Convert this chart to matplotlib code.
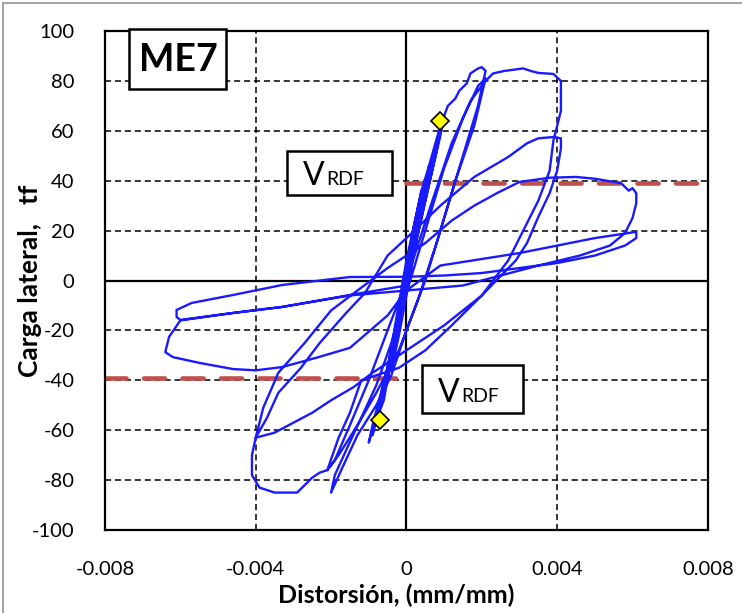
import matplotlib
matplotlib.use("Agg")
import matplotlib.pyplot as plt
from matplotlib.patches import Rectangle

# hysteresis record: distortion (mm/mm) and lateral load (tf)
drift = [
    0.0, 0.0002, 0.0004, 0.0002, -0.0001, -0.0003, -0.0004, -0.0002, 0.0001,
    0.0004, 0.0006, 0.0004, 0.0, -0.0003, -0.0006, -0.0004, -0.0001,
    0.0003, 0.0006, 0.0009, 0.0010, 0.0009, 0.0005, 0.0001, -0.0003, -0.0006,
    -0.0009, -0.0010, -0.0009, -0.0005, -0.0002, 0.0002, 0.0006, 0.0009,
    0.0008, 0.0004, 0.0, -0.0004, -0.0008, -0.0009, -0.0007, -0.0003,
    0.0001, 0.0005, 0.0008, 0.0010, 0.0011, 0.0013, 0.0014, 0.0016, 0.0017,
    0.0019, 0.0020, 0.0021,
    0.0019, 0.0015, 0.0010, 0.0005, 0.0, -0.0004, -0.0008, -0.0013, -0.0017, -0.0020,
    -0.0019, -0.0016, -0.0012, -0.0008, -0.0004, 0.0, 0.0005, 0.0010, 0.0015, 0.0019, 0.0021,
    0.0018, 0.0013, 0.0008, 0.0003, -0.0002, -0.0008, -0.0013, -0.0018, -0.0021,
    -0.0019, -0.0015, -0.0010, -0.0005, 0.0, 0.0006, 0.0012, 0.0017, 0.0021,
    0.0023, 0.0026, 0.0031, 0.0033, 0.0035, 0.0039, 0.0041,
    0.0041, 0.0039, 0.0038, 0.0035, 0.0031, 0.0027, 0.0020, 0.0012, 0.0005,
    -0.0002, -0.0008, -0.0012, -0.0015, -0.0018, -0.0021, -0.0023, -0.0025,
    -0.0027, -0.0029, -0.0035, -0.0039, -0.0041,
    -0.0041, -0.0040, -0.0037, -0.0034, -0.0028, -0.0023, -0.0016, -0.0011,
    -0.0005, 0.0, 0.0009, 0.0018, 0.0027, 0.0032, 0.0035, 0.0039, 0.0041,
    0.0041, 0.0040, 0.0038, 0.0035, 0.0032, 0.0029, 0.0020, 0.0010, 0.0,
    -0.0004, -0.0009, -0.0014, -0.0020, -0.0025, -0.0030, -0.0035, -0.0040,
    -0.0038, -0.0034, -0.0027, -0.0020, -0.0013, -0.0005, 0.0005, 0.0012,
    0.0018, 0.0024, 0.0030, 0.0038, 0.0045, 0.0050, 0.0057, 0.0059, 0.0060, 0.0061,
    0.0061, 0.0060, 0.0058, 0.0054, 0.0046, 0.0035, 0.0025, 0.0015, 0.0,
    -0.0015, -0.0033, -0.0046, -0.0060, -0.0063, -0.0064,
    -0.0062, -0.0055, -0.0046, -0.0040, -0.0033, -0.0024, -0.0015, -0.0005,
    0.0, 0.0009, 0.0030, 0.0050, 0.0061,
    0.0061, 0.0058, 0.0050, 0.0040, 0.0030, 0.0020, 0.0010, 0.0, -0.0015,
    -0.0033, -0.0046, -0.0057, -0.0061, -0.0061,
    -0.0060, -0.0046, -0.0033, -0.0015, 0.0,
]
load = [
    0, 18, 36, 22, -2, -22, -36, -22, 2,
    30, 46, 36, 8, -18, -44, -34, -8,
    22, 46, 62, 66, 58, 32, 5, -22, -48,
    -60, -65, -58, -35, -12, 15, 45, 60,
    52, 25, -2, -28, -54, -62, -50, -25,
    5, 35, 55, 66, 70, 73, 76, 79, 83,
    85, 85.5, 84,
    70, 50, 25, 0, -20, -38, -50, -62, -75, -85,
    -78, -68, -55, -42, -25, -5, 20, 45, 65, 78, 81,
    62, 40, 15, -8, -28, -45, -58, -70, -76,
    -72, -58, -40, -20, 0, 28, 55, 72, 80,
    83, 84, 85, 84, 83.2, 82.8, 80,
    68, 56, 44, 32, 20, 8, -6, -18, -28,
    -35, -38, -40, -53, -63, -76, -77, -79,
    -82, -85, -85, -83, -78,
    -70, -63, -55, -45, -35, -25, -13, -5,
    10, 17, 30, 41.5, 49.5, 55, 57, 57.5, 57,
    53, 44, 35, 25.5, 15, 8, -6, -18, -28,
    -32, -37, -42.7, -48, -53, -57, -61, -63,
    -51, -37, -25, -12, -4, 5, 15, 24,
    30, 35, 39.5, 41.2, 41.5, 40.8, 39, 36, 37, 35,
    31, 25, 19, 14, 10, 6, 2, -2, -4,
    -6, -10.6, -13, -16, -22.6, -28.7,
    -30.7, -33, -35.5, -36, -34.7, -31, -27, -14,
    -4, 6, 11, 17, 19.5,
    17, 14, 10, 7, 5, 3, 2, 1.5, 1.4,
    -1.8, -5.8, -9, -11.8, -14.6,
    -15.8, -13, -10.6, -5.8, -2,
]

# points marked with yellow diamonds
mark_x = [0.0009, -0.0007]
mark_y = [64, -56]

v_rdf = 39  # tf

x_ticks = [-0.008, -0.004, 0, 0.004, 0.008]
x_tick_labels = ["-0.008", "-0.004", "0", "0.004", "0.008"]
y_ticks = list(range(-100, 101, 20))

plt.rcParams["font.family"] = ["Lato", "DejaVu Sans"]
plt.rcParams["axes.unicode_minus"] = False

fig = plt.figure(figsize=(7.42, 6.13), dpi=100)
ax = fig.add_axes([0.1415, 0.1354, 0.8125, 0.814])

# dashed grid, solid zero axes
for xv in x_ticks:
    if xv != 0:
        ax.axvline(xv, color="black", lw=1.1, ls=(0, (4, 2.5)), zorder=1)
for yv in y_ticks:
    if yv != 0:
        ax.axhline(yv, color="black", lw=1.1, ls=(0, (4, 2.5)), zorder=1)
ax.axvline(0, color="black", lw=1.6, zorder=1)
ax.axhline(0, color="black", lw=1.6, zorder=1)

# yield-strength reference lines
ax.plot([0, 0.008], [v_rdf, v_rdf], color="#C0504D", lw=3.3,
        dashes=(4.6, 3.8), dash_capstyle="round", zorder=2)
ax.plot([-0.008, 0], [-v_rdf, -v_rdf], color="#C0504D", lw=3.3,
        dashes=(4.6, 3.8), dash_capstyle="round", zorder=2)

ax.plot(drift, load, color="#1A1AFF", lw=1.7, zorder=3)
ax.plot(mark_x, mark_y, ls="none", marker="D", ms=9, mfc="#FFFF00",
        mec="black", mew=1.2, zorder=4)

ax.set_xlim(-0.008, 0.008)
ax.set_ylim(-100, 100)
ax.set_xticks(x_ticks)
ax.set_xticklabels(x_tick_labels)
ax.set_yticks(y_ticks)
ax.tick_params(axis="both", length=0, labelsize=14.5)
ax.tick_params(axis="x", pad=22)
ax.tick_params(axis="y", pad=22)
for s in ax.spines.values():
    s.set_linewidth(1.6)

ax.set_xlabel("Distorsión, (mm/mm)", fontsize=18, fontweight="bold")
ax.set_ylabel("Carga lateral,   tf", fontsize=19, fontweight="bold")
ax.xaxis.set_label_coords(0.483, -0.108)
ax.yaxis.set_label_coords(-0.104, 0.5)

# label boxes
ax.add_patch(Rectangle((-0.00736, 76.8), 0.00257, 24.0, fill=True, fc="white",
                       ec="black", lw=1.8, zorder=5, clip_on=False))
ax.text(-0.00604, 88.4, "ME7", fontsize=27, fontweight="bold", ha="center",
        va="center", zorder=6)

ax.add_patch(Rectangle((-0.00318, 34.3), 0.00281, 17.8, fill=True, fc="white",
                       ec="black", lw=1.8, zorder=5))
ax.text(-0.00276, 38.3, "V", fontsize=23, ha="left", va="baseline", zorder=6)
ax.text(-0.00212, 38.3, "RDF", fontsize=14, ha="left", va="baseline", zorder=6)

ax.add_patch(Rectangle((0.00041, -53.3), 0.00268, 19.5, fill=True, fc="white",
                       ec="black", lw=1.8, zorder=5))
ax.text(0.00084, -48.7, "V", fontsize=23, ha="left", va="baseline", zorder=6)
ax.text(0.00146, -48.7, "RDF", fontsize=14, ha="left", va="baseline", zorder=6)

# grey outer frame of the chart area
fig.add_artist(Rectangle((3 / 742, -0.1), 1.2, 1.1 - 3 / 613, transform=fig.transFigure,
                         fill=False, ec="#A6A6A6", lw=1.5))

fig.savefig("out.png", dpi=100)
